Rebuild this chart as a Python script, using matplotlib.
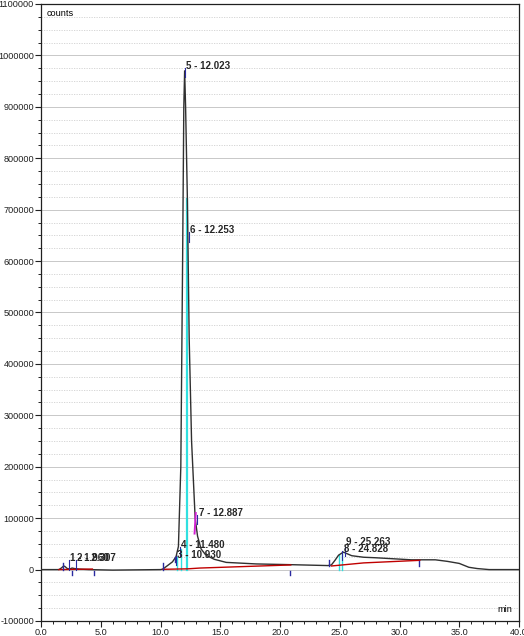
import numpy as np
import matplotlib.pyplot as plt
from matplotlib.ticker import MultipleLocator, FormatStrFormatter

plt.rcParams['font.family'] = ['Liberation Sans', 'DejaVu Sans']

# chromatogram trace (min, counts)
time = [0, 1.5, 1.7, 1.9, 2.0, 2.2, 2.4, 2.6, 2.8, 3.2, 4.0, 6.0, 8.0, 10.0,
        10.2, 10.6, 11.0, 11.3, 11.5, 11.7, 11.85, 11.95, 12.02, 12.1, 12.25,
        12.4, 12.6, 12.9, 13.1, 13.4, 13.8, 14.5, 15.5, 18.0, 21.0, 24.0,
        24.3, 24.6, 24.9, 25.3, 25.6, 26.0, 27.0, 28.0, 31.0, 33.0, 34.0,
        35.0, 35.8, 36.5, 37.5, 40.0]
counts = [0, 0, 3000, 7000, 6000, 2000, 1000, 3000, 2000, 1000, 0, -1000, -500, 0,
          1000, 8000, 15000, 25000, 45000, 200000, 600000, 900000, 970000, 900000, 720000,
          450000, 250000, 100000, 65000, 40000, 28000, 20000, 14000, 11000, 9500, 7800,
          9000, 18000, 28000, 34000, 31000, 27000, 24000, 23000, 19000, 19000, 16000,
          12000, 4500, 2000, 0, 0]

# integration baselines (red)
base_t = [[1.5, 4.3], [10.2, 12.3, 13.3, 20.9], [24.3, 27.0, 31.7]]
base_y = [[0, 1000], [500, 1500, 3000, 9000], [7000, 13000, 18000]]

# peak labels
peak_no = ['1', '2', '3', '4', '5', '6', '7', '8', '9']
peak_rt = [1.960, 2.307, 10.930, 11.480, 12.023, 12.253, 12.887, 24.828, 25.263]
peak_h = [12000, 12000, 20000, 38000, 970000, 650000, 100000, 30000, 38000]

# peak start/end marks (blue)
mark_t = [1.85, 2.6, 4.45, 10.2, 11.2, 20.8, 24.1, 31.6]
mark_lo = [0, -10000, -10000, 0, 15000, -2000, 6000, 6000]
mark_hi = [12000, -2000, -2000, 12000, 25000, -10000, 18000, 16000]

# drop lines (cyan)
drop_t = [11.35, 11.75, 12.25, 24.95, 25.2]
drop_hi = [25000, 40000, 720000, 28000, 33000]

fig = plt.figure(figsize=(5.24, 6.36), dpi=100)
ax = fig.add_axes([41 / 524, 1 - 621 / 636, 478 / 524, 617 / 636])

ax.plot(time, counts, color='#303030', lw=1.0, zorder=3)
for bt, by in zip(base_t, base_y):
    ax.plot(bt, by, color='#c00000', lw=1.0, zorder=4)
for t, hi in zip(drop_t, drop_hi):
    ax.plot([t, t], [0, hi], color='#30e0e0', lw=1.6 if hi > 100000 else 1.0, zorder=2)
for t, lo, hi in zip(mark_t, mark_lo, mark_hi):
    ax.plot([t, t], [lo, hi], color='#2a2aa0', lw=1.0, zorder=5)

# magenta segment at peak 7
ax.plot([12.85, 12.95], [70000, 110000], color='#d020d0', lw=1.4, zorder=4)

dx = [0.4, 0.6, 0.35, 0.15, 0.05, 0.1, 0.2, 0.4, 0.2]
dy = [0, 0, -2000, 0, 0, 0, 0, 0, 5000]
for n, rt, h, ox, oy in zip(peak_no, peak_rt, peak_h, dx, dy):
    x = rt + ox
    ax.plot([x, x], [h - 12000, h + 6000], color='#2a2aa0', lw=0.8, zorder=5)
    ax.text(x + 0.1, h + oy, f'{n} - {rt:.3f}', fontsize=7, fontweight='bold',
            color='#262626', va='bottom', ha='left', zorder=6)

ax.set_xlim(0, 40)
ax.set_ylim(-100000, 1100000)
ax.xaxis.set_major_locator(MultipleLocator(5))
ax.xaxis.set_minor_locator(MultipleLocator(1))
ax.xaxis.set_major_formatter(FormatStrFormatter('%.1f'))
ax.yaxis.set_major_locator(MultipleLocator(100000))
ax.yaxis.set_minor_locator(MultipleLocator(25000))
ax.yaxis.set_major_formatter(FormatStrFormatter('%d'))
ax.tick_params(which='major', length=4, width=0.8, labelsize=6.6, colors='#202020', pad=1)
ax.tick_params(which='minor', length=2.5, width=0.6)

ax.grid(which='major', axis='y', color='#c8c8c8', lw=0.7)
ax.grid(which='minor', axis='y', color='#d0d0d0', lw=0.6, ls=(0, (1.5, 1.5)))
for s in ax.spines.values():
    s.set_color('#202020')
    s.set_linewidth(0.9)

ax.text(0.012, 0.992, 'counts', transform=ax.transAxes, fontsize=6.6, va='top', ha='left')
ax.text(0.985, 0.012, 'min', transform=ax.transAxes, fontsize=6.6, va='bottom', ha='right')

fig.savefig('out.png', dpi=100)
